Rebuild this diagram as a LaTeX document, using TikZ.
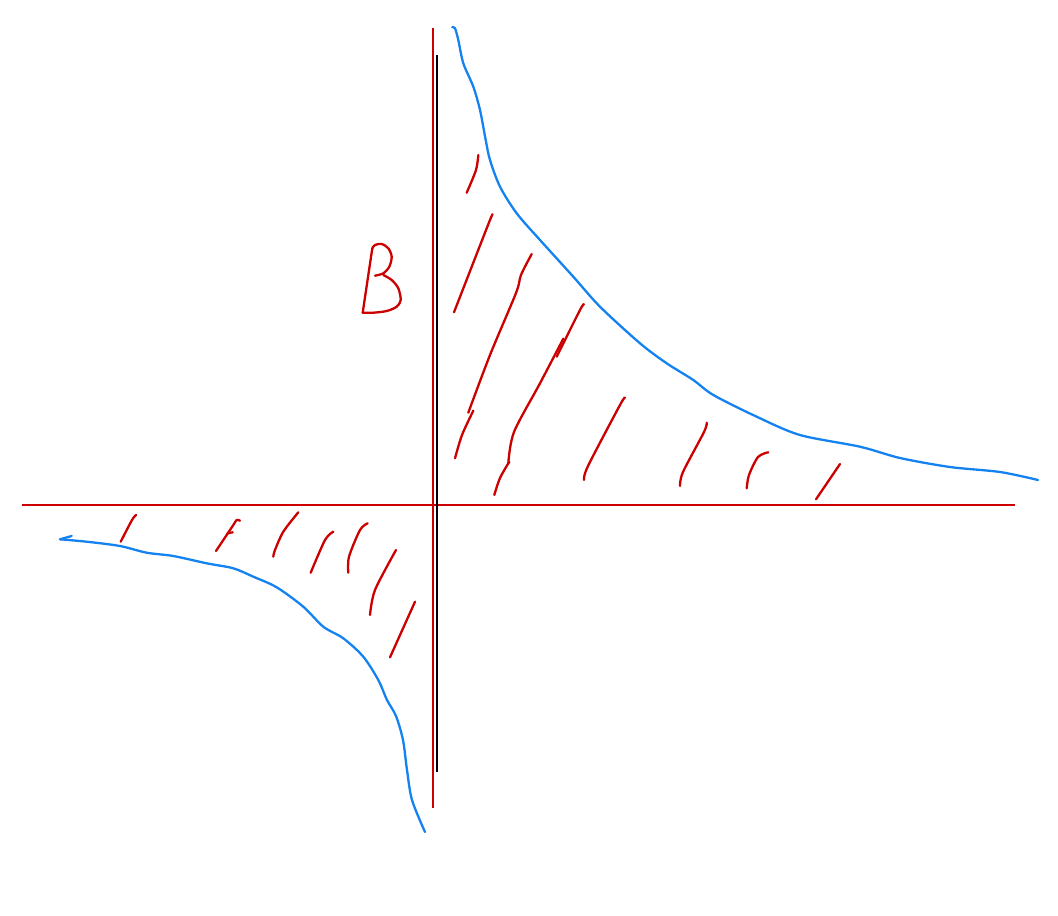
\documentclass[tikz,border=0pt]{standalone}
\definecolor{penred}{RGB}{204,0,0}
\definecolor{penblue}{RGB}{20,130,240}
\begin{document}
\begin{tikzpicture}[x=1pt,y=-1pt,
  redline/.style={penred,line width=2.3pt},
  hatch/.style={penred,line width=2.3pt,line cap=round,line join=round},
  curve/.style={penblue,line width=2.3pt,line cap=round,line join=round},
  blackline/.style={black,line width=2.3pt}]
\useasboundingbox (0,0) rectangle (1058,916);
% axes
\draw[redline] (22,505) -- (1015,505);
\draw[redline] (432.7,28) -- (432.7,808);
\draw[blackline] (436.7,55) -- (436.7,772);
% letter B
\draw[hatch] plot[smooth] coordinates {(372.3,248.3)(362.7,312.7)};
\draw[hatch] plot[smooth] coordinates {(372.3,248.3)(375,245)(381.7,244)(388.3,248.3)(391.7,256.7)(389.3,266.7)(383.3,273.3)(375,275.7)};
\draw[hatch] plot[smooth] coordinates {(383.3,275)(391.7,280)(398.3,288.3)(400.7,300)(396.7,306.7)(386.7,311)(373.3,312.7)(362.7,312.7)};
% upper-right blue curve
\draw[curve] plot[smooth,tension=0.5] coordinates {(452.3,27.3)(455,28.3)(458.3,40)(463.3,63.3)(473.3,86.7)(480,110)(485.7,140)(490,160)(500,186.7)(516.7,213.3)(540,240)(573.3,276.7)(600,306.7)(640,343.3)(666.7,363.3)(693.3,380)(713.3,395)(756.7,416.7)(800,435)(860,446.7)(900,458)(950,467)(1000,472)(1038,480)};
% lower-left blue curve
\draw[curve] (71.7,536) -- (60,539.3);
\draw[curve] plot[smooth,tension=0.5] coordinates {(60,539.3)(86.7,541.7)(120,546)(146.7,552.7)(173.3,556)(206.7,563.3)(233.3,568.3)(253.3,576.7)(276.7,587.3)(303.3,606.7)(323.3,626.7)(343.3,638.3)(363.3,656.7)(378.3,680)(387,700)(396,716)(403,740)(407,770)(412,800)(425,832)};
% hatching upper right
\draw[hatch] plot[smooth] coordinates {(478.3,155)(476,170)(466.7,192.7)};
\draw[hatch] plot[smooth] coordinates {(492.7,214.3)(488,225)(454,312.3)};
\draw[hatch] plot[smooth] coordinates {(531.7,254)(521,275)(516,293)(490,355)(468.3,412.7)};
\draw[hatch] plot[smooth] coordinates {(473.3,410.7)(462,435)(455,458.3)};
\draw[hatch] plot[smooth] coordinates {(584,304.3)(580,310)(556.7,356.7)};
\draw[hatch] plot[smooth] coordinates {(563.3,338.7)(540,383.3)(514,432)(508.3,463.3)};
\draw[hatch] plot[smooth] coordinates {(509.3,461.7)(500,478)(494.3,495)};
\draw[hatch] plot[smooth] coordinates {(625,397.7)(620,405)(588,466)(584,480)};
\draw[hatch] plot[smooth] coordinates {(706.7,422.7)(704,432)(683,472)(680,486)};
\draw[hatch] plot[smooth] coordinates {(768.3,452.3)(758,457)(749,475)(746.7,488.3)};
\draw[hatch] plot[smooth] coordinates {(840,464)(816,499.3)};
% hatching lower left
\draw[hatch] plot[smooth] coordinates {(136,515)(132,520)(120.7,541.7)};
\draw[hatch] plot[smooth] coordinates {(240,520.7)(236.7,520)(233.3,525)(216,551)};
\draw[hatch] (227.3,533.3) -- (232.7,532.3);
\draw[hatch] plot[smooth] coordinates {(298.3,512.3)(283.3,531.7)(275,550)(273.3,556.7)};
\draw[hatch] plot[smooth] coordinates {(333.3,531.7)(325,540)(310.7,572.7)};
\draw[hatch] plot[smooth] coordinates {(367.7,523.3)(360,530)(349,556.7)(348.3,572.7)};
\draw[hatch] plot[smooth] coordinates {(396,550)(375,590)(370,615)};
\draw[hatch] plot[smooth] coordinates {(415,601.7)(390,657.3)};
\end{tikzpicture}
\end{document}
